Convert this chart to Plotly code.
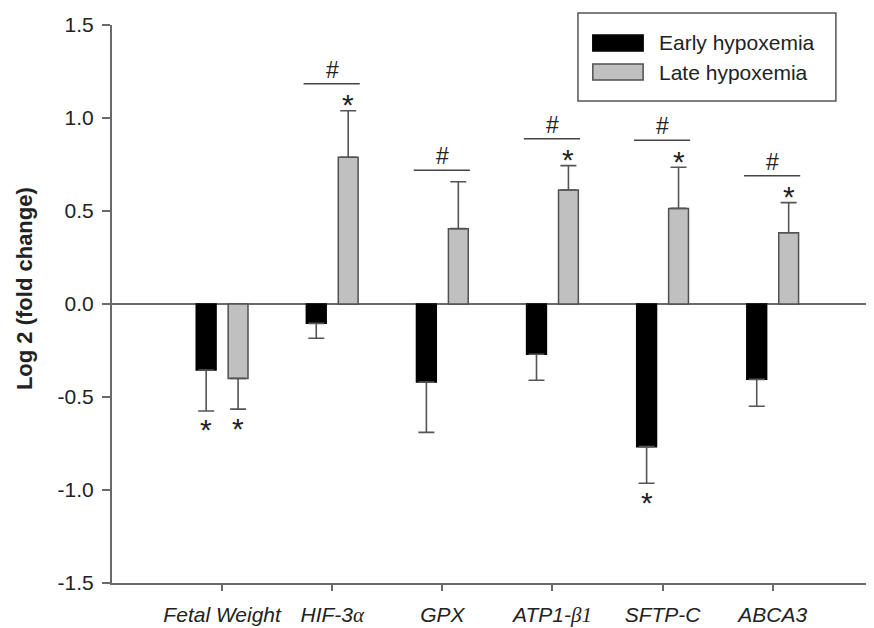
import plotly.graph_objects as go

# ---- data ----
categories = ["Fetal Weight", "HIF-3α", "GPX", "ATP1-β1", "SFTP-C", "ABCA3"]
tick_labels = [
    "<i>Fetal Weight</i>",
    "<i>HIF-3<span style='font-family:Liberation Serif'>α</span></i>",
    "<i>GPX</i>",
    "<i>ATP1-<span style='font-family:Liberation Serif'>β1</span></i>",
    "<i>SFTP-C</i>",
    "<i>ABCA3</i>",
]
series_names = ["Early hypoxemia", "Late hypoxemia"]
early_values = [-0.355, -0.104, -0.42, -0.27, -0.767, -0.405]
early_errors = [0.22, 0.08, 0.27, 0.14, 0.197, 0.145]
late_values = [-0.40, 0.789, 0.405, 0.613, 0.514, 0.383]
late_errors = [0.165, 0.25, 0.252, 0.131, 0.221, 0.162]
early_star = [True, False, False, False, True, False]
late_star = [True, True, False, True, True, True]
hash_mark = [False, True, True, True, True, True]
y_ticks = [-1.5, -1.0, -0.5, 0.0, 0.5, 1.0, 1.5]
y_tick_text = ["%.1f" % v for v in y_ticks]  # plain hyphen-minus, as in the reference

# ---- styling ----
FONT = "Liberation Sans, Arial, sans-serif"
TXT = "#222222"
AXC = "#6a6a6a"
BAR_W = 0.18
OFF = 0.145
x_pos = list(range(1, len(categories) + 1))

def up(vals, errs):
    return [e if v >= 0 else 0 for v, e in zip(vals, errs)]

def down(vals, errs):
    return [e if v < 0 else 0 for v, e in zip(vals, errs)]

fig = go.Figure()
fig.add_trace(go.Bar(
    x=x_pos, y=early_values, name=series_names[0],
    width=BAR_W, offset=-OFF - BAR_W / 2,
    marker=dict(color="#000000", line=dict(color="#000000", width=1.5)),
    error_y=dict(type="data", symmetric=False,
                 array=up(early_values, early_errors),
                 arrayminus=down(early_values, early_errors),
                 color="#555555", thickness=1.6, width=8),
    showlegend=False,
))
fig.add_trace(go.Bar(
    x=x_pos, y=late_values, name=series_names[1],
    width=BAR_W, offset=OFF - BAR_W / 2,
    marker=dict(color="#c0c0c0", line=dict(color="#505050", width=1.5)),
    error_y=dict(type="data", symmetric=False,
                 array=up(late_values, late_errors),
                 arrayminus=down(late_values, late_errors),
                 color="#555555", thickness=1.6, width=8),
    showlegend=False,
))

annotations = []
shapes = []

def star_ann(xc, v, e):
    if v >= 0:
        return dict(x=xc, y=v + e, xref="x", yref="y", text="*", showarrow=False,
                    font=dict(family=FONT, size=30, color=TXT),
                    yanchor="middle", yshift=6)
    return dict(x=xc, y=v - e, xref="x", yref="y", text="*", showarrow=False,
                font=dict(family=FONT, size=30, color=TXT),
                yanchor="middle", yshift=-19)

for i, xc in enumerate(x_pos):
    if early_star[i]:
        annotations.append(star_ann(xc - OFF, early_values[i], early_errors[i]))
    if late_star[i]:
        annotations.append(star_ann(xc + OFF, late_values[i], late_errors[i]))
    if hash_mark[i]:
        top = late_values[i] + late_errors[i]
        ly = top + (0.145 if late_star[i] else 0.062)
        shapes.append(dict(type="line", xref="x", yref="y",
                           x0=xc - 0.26, x1=xc + 0.25, y0=ly, y1=ly,
                           line=dict(color="#444444", width=1.5)))
        annotations.append(dict(x=xc, y=ly, xref="x", yref="y", text="#",
                                showarrow=False, yanchor="bottom", yshift=-1,
                                font=dict(family=FONT, size=23, color=TXT)))

# y-axis title
annotations.append(dict(x=-0.114, y=0.527, xref="paper", yref="paper",
                        text="<b>Log 2 (fold change)</b>", textangle=-90,
                        showarrow=False, xanchor="center", yanchor="middle",
                        font=dict(family=FONT, size=22, color=TXT)))

# custom legend (box, swatches, labels)
shapes.append(dict(type="rect", xref="paper", yref="paper",
                   x0=0.6115, x1=0.950, y0=0.8638, y1=1.0215,
                   line=dict(color="#555555", width=1.5), fillcolor="white",
                   layer="above"))
leg_y = [(0.9534, 0.9821), (0.9014, 0.9301)]
leg_fill = ["#000000", "#c0c0c0"]
leg_line = ["#000000", "#505050"]
for k in range(2):
    shapes.append(dict(type="rect", xref="paper", yref="paper",
                       x0=0.631, x1=0.697, y0=leg_y[k][0], y1=leg_y[k][1],
                       fillcolor=leg_fill[k], line=dict(color=leg_line[k], width=1.5),
                       layer="above"))
    annotations.append(dict(x=0.7152, y=(leg_y[k][0] + leg_y[k][1]) / 2,
                            xref="paper", yref="paper", text=series_names[k],
                            showarrow=False, xanchor="left", yanchor="middle",
                            font=dict(family=FONT, size=21, color=TXT)))

fig.update_layout(
    width=866, height=620,
    margin=dict(l=104, r=0, t=17, b=45),
    paper_bgcolor="white", plot_bgcolor="white",
    barmode="overlay",
    font=dict(family=FONT, color=TXT),
    shapes=shapes, annotations=annotations,
    xaxis=dict(range=[0, 6.92], tickmode="array", tickvals=x_pos, ticktext=tick_labels,
               showline=True, linecolor=AXC, linewidth=2, showgrid=False, zeroline=False,
               ticks="outside", ticklen=6, tickwidth=1.5, tickcolor=AXC,
               ticklabelstandoff=6,
               tickfont=dict(family=FONT, size=21, color=TXT)),
    yaxis=dict(range=[-1.5, 1.5], tickmode="array", tickvals=y_ticks, ticktext=y_tick_text,
               showline=True, linecolor=AXC, linewidth=2,
               showgrid=False, zeroline=True, zerolinecolor=AXC, zerolinewidth=2,
               ticks="outside", ticklen=8, tickwidth=1.5, tickcolor=AXC,
               ticklabelstandoff=4,
               tickfont=dict(family=FONT, size=21, color=TXT)),
)

fig.write_html("out.html")
